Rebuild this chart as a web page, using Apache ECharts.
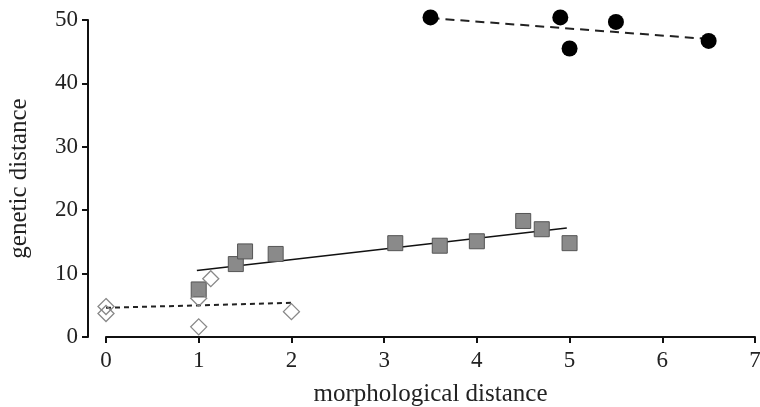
<!DOCTYPE html>
<html>
<head>
<meta charset="utf-8">
<script src="https://cdn.jsdelivr.net/npm/echarts@6/dist/echarts.min.js"></script>
<style>
  html, body { margin: 0; padding: 0; background: #fff; }
  #chart { width: 760px; height: 407px; }
</style>
</head>
<body>
<div id="chart"></div>
<script>
// values: [morphological, genetic]
const circlePoints = [[3.5, 50.4], [4.9, 50.4], [5.5, 49.7], [5.0, 45.5], [6.5, 46.7]];
const circleTrend = [[3.5, 50.3], [6.5, 47.0]];

const squarePoints = [
  [1.0, 7.5], [1.4, 11.5], [1.5, 13.5], [1.83, 13.1], [3.12, 14.8],
  [3.6, 14.4], [4.0, 15.1], [4.5, 18.3], [4.7, 17.0], [5.0, 14.8]
];
const squareTrend = [[0.98, 10.5], [4.97, 17.2]];

const diamondPoints = [[0, 4.8], [0, 3.7], [1.0, 6.1], [1.13, 9.2], [1.0, 1.6], [2.0, 4.0]];
const diamondTrend = [[0, 4.6], [2.02, 5.4]];

const xTicks = { min: 0, max: 7, step: 1 };
const yTicks = { min: 0, max: 50, step: 10 };

const font = "'Liberation Serif', 'DejaVu Serif', serif";

// 绘制图表
let myChart = echarts.init(document.getElementById("chart"));
myChart.setOption({
  animation: false,
  grid: { left: 106, right: 5, top: 20, bottom: 70, containLabel: false, outerBoundsMode: "none" },
  xAxis: {
    type: "value",
    min: xTicks.min,
    max: xTicks.max,
    interval: xTicks.step,
    name: "morphological distance",
    nameLocation: "middle",
    nameGap: 45,
    nameTextStyle: { fontFamily: font, fontSize: 25, color: "#222" },
    axisLine: { onZero: false, lineStyle: { color: "#111", width: 2 } },
    axisTick: { length: 6, lineStyle: { color: "#111", width: 2 } },
    axisLabel: { margin: 12, fontFamily: font, fontSize: 23, color: "#222" },
    splitLine: { show: false }
  },
  yAxis: {
    type: "value",
    min: yTicks.min,
    max: yTicks.max,
    interval: yTicks.step,
    offset: 18,
    name: "genetic distance",
    nameLocation: "middle",
    nameGap: 56,
    nameTextStyle: { fontFamily: font, fontSize: 25, color: "#222" },
    axisLine: { show: true, onZero: false, lineStyle: { color: "#111", width: 2 } },
    axisTick: { show: true, length: 6, lineStyle: { color: "#111", width: 2 } },
    axisLabel: { margin: 10, fontFamily: font, fontSize: 23, color: "#222" },
    splitLine: { show: false }
  },
  series: [
    {
      type: "line",
      data: circleTrend,
      symbol: "none",
      clip: false,
      lineStyle: { color: "#222", width: 2, type: [9, 6] },
      z: 2
    },
    {
      type: "scatter",
      data: circlePoints,
      symbol: "circle",
      symbolSize: 16,
      clip: false,
      itemStyle: { color: "#000", opacity: 1 },
      z: 3
    },
    {
      type: "line",
      data: squareTrend,
      symbol: "none",
      lineStyle: { color: "#111", width: 1.5 },
      z: 2
    },
    {
      type: "scatter",
      data: squarePoints,
      symbol: "rect",
      symbolSize: 15,
      itemStyle: { color: "#8a8a8a", borderColor: "#555", borderWidth: 1, opacity: 1 },
      z: 3
    },
    {
      type: "line",
      data: diamondTrend,
      symbol: "none",
      clip: false,
      lineStyle: { color: "#222", width: 2, type: [5, 4] },
      z: 4
    },
    {
      type: "scatter",
      data: diamondPoints,
      symbol: "diamond",
      symbolSize: 16,
      clip: false,
      itemStyle: { color: "rgba(255,255,255,0)", borderColor: "#888", borderWidth: 1.3, opacity: 1 },
      z: 5
    }
  ]
});
</script>
</body>
</html>
